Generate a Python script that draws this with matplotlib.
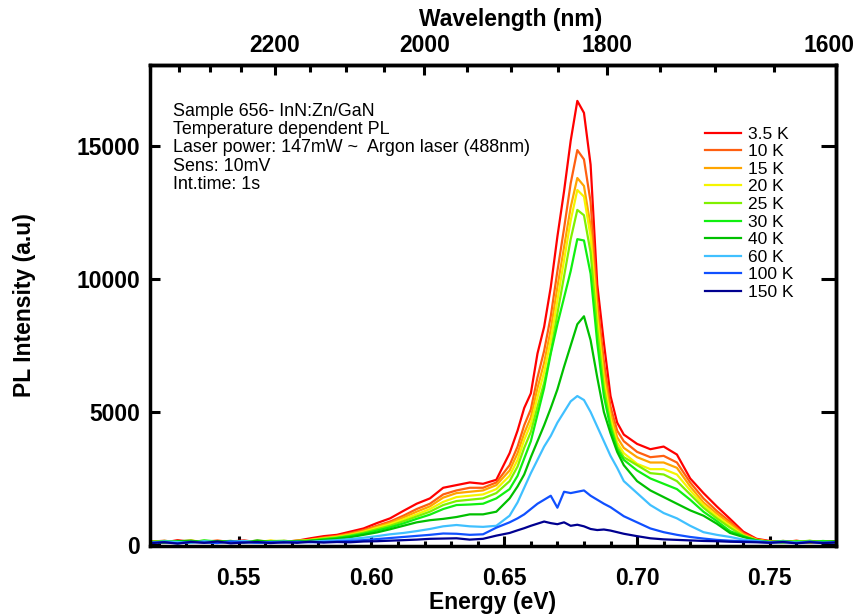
import numpy as np
import matplotlib
matplotlib.use("Agg")
import matplotlib.pyplot as plt
from matplotlib.ticker import MultipleLocator, FixedLocator
from matplotlib.transforms import ScaledTranslation

plt.rcParams['font.family'] = ['Liberation Sans', 'DejaVu Sans']
plt.rcParams['font.weight'] = 'bold'

HC = 1239.84  # eV * nm

# Photon energy (eV)
energy = [0.517, 0.522, 0.527, 0.532, 0.537, 0.542, 0.547, 0.552, 0.557, 0.562,
          0.567, 0.572, 0.577, 0.582, 0.587, 0.592, 0.597, 0.602, 0.607, 0.612,
          0.617, 0.622, 0.627, 0.632, 0.637, 0.642, 0.647, 0.652,
          0.655, 0.6575, 0.66, 0.6625, 0.665, 0.6675, 0.67, 0.6725, 0.675, 0.6775,
          0.68, 0.6825, 0.685, 0.6875, 0.69, 0.6925, 0.695,
          0.70, 0.705, 0.71, 0.715, 0.72, 0.725, 0.73, 0.735, 0.74, 0.745,
          0.75, 0.755, 0.76, 0.765, 0.77, 0.775]

temperatures = ["3.5 K", "10 K", "15 K", "20 K", "25 K",
                "30 K", "40 K", "60 K", "100 K", "150 K"]
colors = ["#ff0000", "#ff5f10", "#ffa500", "#f5f500", "#80f000",
          "#10f010", "#00c000", "#40c0ff", "#1050ff", "#000090"]

# PL intensity (a.u.) for each temperature
pl_3p5K = [150, 90, 180, 110, 140, 80, 130, 170, 100, 150, 120, 160, 250,
           330, 380, 500, 620, 820, 1000, 1280, 1550, 1750, 2150, 2250, 2350, 2300, 2450, 3450,
           4300, 5150, 5700, 7200, 8200, 9700, 11600, 13300, 15200, 16700, 16250, 14300, 9800, 7600, 5600, 4600, 4150,
           3800, 3600, 3700, 3400, 2500, 1950, 1450, 980, 500, 230, 150, 100, 160, 90, 140, 110]
pl_10K = [120, 160, 90, 150, 110, 170, 100, 140, 120, 90, 150, 130, 200,
          280, 340, 440, 560, 720, 880, 1100, 1350, 1550, 1900, 2050, 2150, 2150, 2350, 3000,
          3700, 4500, 5100, 6300, 7300, 8600, 10300, 11900, 13600, 14850, 14500, 12900, 9200, 6900, 5200, 4300, 3900,
          3500, 3300, 3350, 3100, 2350, 1750, 1280, 870, 440, 210, 120, 140, 90, 150, 100, 130]
pl_15K = [140, 100, 130, 170, 90, 120, 150, 110, 160, 130, 100, 170, 180,
          260, 320, 410, 520, 680, 830, 1030, 1250, 1450, 1780, 1950, 2000, 2050, 2250, 2800,
          3450, 4200, 4800, 5900, 6850, 8100, 9700, 11200, 12700, 13800, 13500, 12000, 8800, 6500, 4950, 4050, 3650,
          3300, 3100, 3100, 2900, 2200, 1600, 1180, 800, 400, 190, 110, 150, 120, 80, 140, 120]
pl_20K = [110, 140, 100, 160, 120, 90, 140, 130, 100, 170, 110, 140, 190,
          240, 300, 380, 490, 640, 780, 960, 1150, 1350, 1620, 1800, 1850, 1900, 2100, 2600,
          3200, 3950, 4550, 5550, 6500, 7700, 9200, 10700, 12200, 13350, 13100, 11600, 8500, 6200, 4750, 3850, 3450,
          3050, 2850, 2850, 2650, 2050, 1500, 1080, 720, 360, 180, 130, 90, 150, 110, 120, 90]
pl_25K = [130, 90, 150, 120, 160, 110, 90, 150, 120, 140, 160, 100, 170,
          230, 280, 360, 460, 590, 720, 890, 1070, 1250, 1500, 1650, 1700, 1750, 1950, 2400,
          2950, 3650, 4250, 5200, 6100, 7250, 8700, 10100, 11500, 12600, 12400, 11000, 8100, 5900, 4550, 3700, 3300,
          3000, 2700, 2650, 2400, 1900, 1400, 1000, 650, 340, 170, 100, 140, 110, 160, 90, 130]
pl_30K = [100, 150, 120, 90, 170, 130, 110, 140, 90, 130, 120, 150, 160,
          210, 260, 330, 420, 540, 660, 810, 980, 1140, 1350, 1500, 1520, 1550, 1750, 2100,
          2600, 3250, 3900, 4900, 5900, 7200, 8300, 9300, 10300, 11500, 11450, 10200, 7600, 5600, 4400, 3600, 3200,
          2800, 2500, 2300, 2100, 1700, 1250, 900, 520, 330, 160, 120, 90, 140, 100, 150, 110]
pl_40K = [120, 90, 140, 160, 100, 130, 150, 90, 170, 110, 140, 120, 150,
          190, 230, 290, 380, 470, 590, 720, 850, 930, 980, 1050, 1150, 1150, 1250, 1750,
          2200, 2650, 3300, 3900, 4500, 5150, 5850, 6700, 7500, 8300, 8600, 7700, 6300, 5000, 4200, 3500, 3000,
          2400, 2050, 1800, 1550, 1300, 1100, 800, 450, 300, 170, 110, 150, 90, 130, 100, 140]
pl_60K = [90, 130, 110, 80, 140, 100, 120, 150, 90, 110, 130, 100, 120,
          150, 180, 220, 270, 330, 400, 450, 520, 600, 700, 750, 700, 680, 720, 1100,
          1600, 2150, 2700, 3200, 3700, 4100, 4600, 5000, 5400, 5600, 5450, 5000, 4450, 3900, 3350, 2900, 2400,
          1950, 1500, 1200, 1000, 720, 480, 380, 300, 200, 150, 100, 130, 90, 120, 80, 110]
pl_100K = [80, 110, 60, 120, 90, 70, 130, 100, 80, 110, 90, 120, 100,
           110, 130, 150, 180, 220, 260, 300, 340, 380, 430, 420, 380, 400, 650, 850,
           1000, 1150, 1350, 1550, 1700, 1850, 1400, 2000, 1950, 2000, 2050, 1850, 1700, 1550, 1420, 1250, 1080,
           850, 620, 480, 380, 300, 240, 190, 160, 140, 120, 90, 110, 70, 120, 80, 100]
pl_150K = [70, 100, 50, 110, 80, 130, 60, 90, 110, 70, 100, 80, 120,
           90, 110, 100, 130, 140, 160, 180, 200, 230, 240, 250, 200, 230, 350, 450,
           550, 630, 720, 800, 880, 820, 780, 850, 720, 760, 700, 600, 560, 580, 540, 480, 420,
           330, 250, 210, 190, 170, 150, 140, 120, 110, 100, 80, 110, 60, 100, 70, 90]

spectra = [pl_3p5K, pl_10K, pl_15K, pl_20K, pl_25K,
           pl_30K, pl_40K, pl_60K, pl_100K, pl_150K]

fig = plt.figure(figsize=(8.56, 6.15), dpi=100)
ax = fig.add_axes([150 / 856, 1 - 546 / 615, 686 / 856, 481 / 615])

for label, color, y in zip(temperatures, colors, spectra):
    ax.plot(energy, y, color=color, lw=1.6, label=label)

ax.set_xlim(HC / 2400, HC / 1600)
ax.set_ylim(-40, 18050)
ax.xaxis.set_major_locator(MultipleLocator(0.05))
ax.xaxis.set_minor_locator(MultipleLocator(0.01))
ax.yaxis.set_major_locator(MultipleLocator(5000))

for s in ax.spines.values():
    s.set_linewidth(2.5)

ax.tick_params(which='both', direction='in', width=2.2, labelsize=16.5)
ax.tick_params(which='major', length=7)
ax.tick_params(which='minor', length=3.5)
ax.tick_params(axis='x', pad=15)
ax.tick_params(axis='y', pad=7)

ax.set_xlabel("Energy (eV)", fontsize=16.5, fontweight='bold', labelpad=1)
ax.set_ylabel("PL Intensity (a.u)", fontsize=16.5, fontweight='bold', labelpad=29)


def energy_to_wavelength(e):
    e = np.asarray(e, dtype=float)
    with np.errstate(divide='ignore', invalid='ignore'):
        return HC / e


top = ax.secondary_xaxis('top', functions=(energy_to_wavelength, energy_to_wavelength))
top.xaxis.set_major_locator(FixedLocator([1600, 1800, 2000, 2200]))
top.xaxis.set_minor_locator(MultipleLocator(50))
top.tick_params(which='both', direction='in', width=2.2, labelsize=16.5, pad=6)
top.tick_params(which='major', length=7)
top.tick_params(which='minor', length=5)
top.spines['top'].set_linewidth(2.5)
top.set_xlabel("Wavelength (nm)", fontsize=16.5, fontweight='bold')
top.xaxis.set_label_coords(0.525, 1.0936, transform=ax.transAxes)
top.xaxis.label.set_va('center')

right = ax.secondary_yaxis('right')
right.yaxis.set_major_locator(MultipleLocator(5000))
right.tick_params(direction='in', length=11, width=2.2, labelright=False)
right.spines['right'].set_linewidth(2.5)

ax.text(0.0335, 0.921,
        "Sample 656- InN:Zn/GaN\n"
        "Temperature dependent PL\n"
        "Laser power: 147mW ~  Argon laser (488nm)\n"
        "Sens: 10mV\n"
        "Int.time: 1s",
        transform=ax.transAxes, ha='left', va='top',
        fontsize=12.9, fontweight='normal', linespacing=1.09)

ax.legend(loc='upper left', bbox_to_anchor=(0.809, 0.872), frameon=False,
          prop={'size': 12.5, 'weight': 'normal'}, handlelength=2.1,
          handletextpad=0.4, labelspacing=0.14, borderpad=0, borderaxespad=0)

# nudge the right-most wavelength label so it stays inside the canvas
fig.canvas.draw()
shift = ScaledTranslation(-5 / 72, 0, fig.dpi_scale_trans)
for tick in top.xaxis.get_major_ticks():
    if abs(tick.get_loc() - 1600) < 1e-6:
        tick.label1.set_transform(tick.label1.get_transform() + shift)
        tick.label2.set_transform(tick.label2.get_transform() + shift)

fig.savefig("out.png", dpi=100)
